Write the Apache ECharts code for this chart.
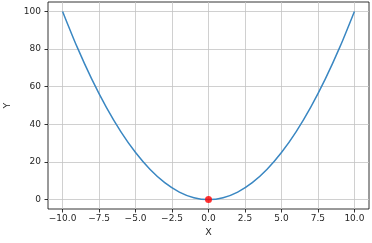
<!DOCTYPE html>
<html><head><meta charset="utf-8">
<script src="https://cdn.jsdelivr.net/npm/echarts@6/dist/echarts.min.js"></script>
<style>html,body{margin:0;padding:0;background:#fff}#c{width:372px;height:243px}</style>
</head><body><div id="c"></div>
<script>
const xValues = [-10,-9,-8,-7,-6,-5,-4,-3,-2,-1,0,1,2,3,4,5,6,7,8,9,10];
const yValues = [100,81,64,49,36,25,16,9,4,1,0,1,4,9,16,25,36,49,64,81,100];
const markerPoint = [0, 0];
const xTicks = [-10,-7.5,-5,-2.5,0,2.5,5,7.5,10];
const yTicks = [0,20,40,60,80,100];

const fmtX = v => { const s = Math.abs(v).toFixed(1); return (v < 0 ? '\u2212' : '') + s; };
const labelStyle = {fontFamily:'DejaVu Sans', fontSize:9, color:'#262626'};
const chart = echarts.init(document.getElementById('c'), null, {renderer:'canvas'});
chart.setOption({
  animation:false,
  grid:{left:48, right:3, top:2, bottom:34, show:true, borderColor:'#000', borderWidth:0.8, containLabel:false, outerBoundsMode:'none'},
  xAxis:{type:'value', min:-11, max:11,
    name:'X', nameLocation:'middle', nameGap:19, nameTextStyle:{fontFamily:'DejaVu Sans', fontSize:9.5, color:'#262626'},
    axisLine:{show:false, onZero:false},
    axisTick:{show:true, inside:false, length:3.5, lineStyle:{color:'#000', width:0.8}, customValues:xTicks},
    axisLabel:{...labelStyle, margin:5, customValues:xTicks, formatter:fmtX},
    splitLine:{show:true, lineStyle:{color:'#c4c4c4', width:0.8}}
  },
  yAxis:{type:'value', min:-5, max:105,
    name:'Y', nameLocation:'middle', nameGap:31, nameRotate:90, nameTextStyle:{fontFamily:'DejaVu Sans', fontSize:9.5, color:'#262626'},
    axisLine:{show:false, onZero:false},
    axisTick:{show:true, inside:false, length:3.5, lineStyle:{color:'#000', width:0.8}, customValues:yTicks},
    axisLabel:{...labelStyle, margin:7, customValues:yTicks},
    splitLine:{show:true, lineStyle:{color:'#c4c4c4', width:0.8}}
  },
  series:[
    {type:'line', data:xValues.map((x,i)=>[x,yValues[i]]), smooth:0.3, showSymbol:false,
     lineStyle:{color:'#3a87c2', width:1.5}, z:2},
    {type:'scatter', data:[markerPoint], symbolSize:7, itemStyle:{color:'#ff0000'}, z:3}
  ]
});
</script></body></html>
